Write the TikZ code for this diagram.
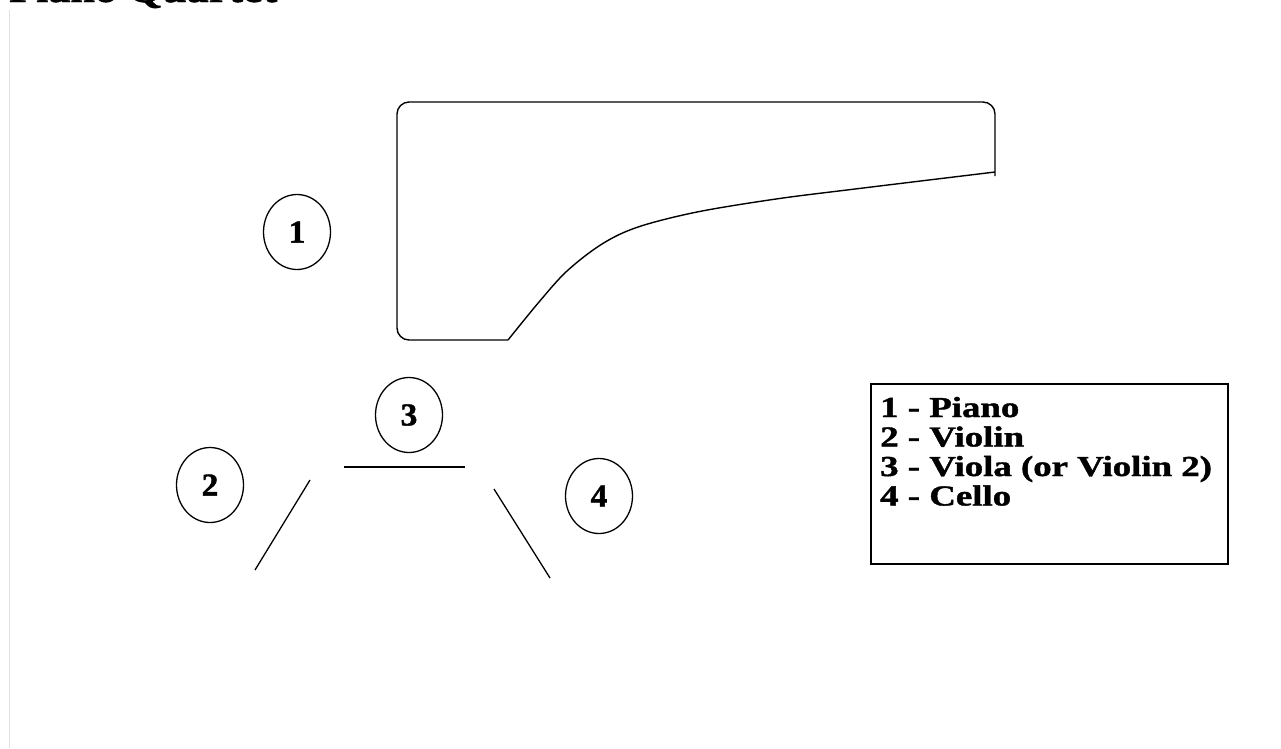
\documentclass[tikz,border=0pt]{standalone}
\usepackage{fontspec}
\setmainfont{Liberation Serif}[BoldFeatures={FakeBold=1.2}]
\usepackage{graphicx}
\usetikzlibrary{shapes.geometric}
% horizontally widened bold lettering
\newcommand\wideword[2][1.27]{\scalebox{#1}[1]{#2}}
\tikzset{
  outline/.style={line width=1.4pt, black, line join=round},
  standline/.style={line width=1.3pt, black},
  seat/.style={draw, ellipse, line width=1.3pt, minimum width=67pt, minimum height=75pt,
    inner sep=0pt, font=\fontsize{32}{32}\selectfont\bfseries},
  legendtext/.style={anchor=base west, inner sep=0pt, font=\fontsize{29}{29}\selectfont\bfseries},
  legendbox/.style={draw, line width=1.4pt},
}
\begin{document}
\begin{tikzpicture}[x=1pt, y=-1pt]
  \useasboundingbox (0,0) rectangle (1281,748);
  \fill[white] (0,0) rectangle (1281,748);
  % page frame edge
  \draw[gray!25, line width=1pt] (9.5,10) -- (9.5,748);

  % title
  \node[anchor=base west, inner sep=0pt, font=\fontsize{38}{38}\selectfont\bfseries]
    (title) at (9,2) {\wideword[1.16]{Piano Quartet}};

  % grand piano outline
  \draw[outline, rounded corners=12pt]
    (508,340) -- (397,340) -- (397,102) -- (995,102) -- (995,176);
  \draw[outline] plot[smooth, tension=0.55] coordinates {
    (995,172) (855,189) (776,199) (697,212) (638,227) (602,244)
    (567,271) (539,302) (508,340)};

  % player positions
  \node[seat] (n1) at (297,232) {\wideword[1.05]{1}};
  \node[seat] (n3) at (409,415) {\wideword[1.05]{3}};
  \node[seat] (n2) at (210,485) {\wideword[1.05]{2}};
  \node[seat] (n4) at (599,496) {\wideword[1.05]{4}};

  % music stands
  \coordinate (s3a) at (344,467);
  \coordinate (s3b) at (465,467);
  \coordinate (s2a) at (310,480);
  \coordinate (s2b) at (255,570);
  \coordinate (s4a) at (494,489);
  \coordinate (s4b) at (550,578);
  \draw[standline] (s3a) -- (s3b);
  \draw[standline] (s2a) -- (s2b);
  \draw[standline] (s4a) -- (s4b);

  % legend
  \draw[legendbox] (871,384) rectangle (1228,564);
  \node[legendtext] (l1) at (880,417) {\wideword{1 - Piano}};
  \node[legendtext] (l2) at (880,446.5) {\wideword{2 - Violin}};
  \node[legendtext] (l3) at (880,476) {\wideword{3 - Viola (or Violin 2)}};
  \node[legendtext] (l4) at (880,505.5) {\wideword{4 - Cello}};
\end{tikzpicture}
\end{document}
